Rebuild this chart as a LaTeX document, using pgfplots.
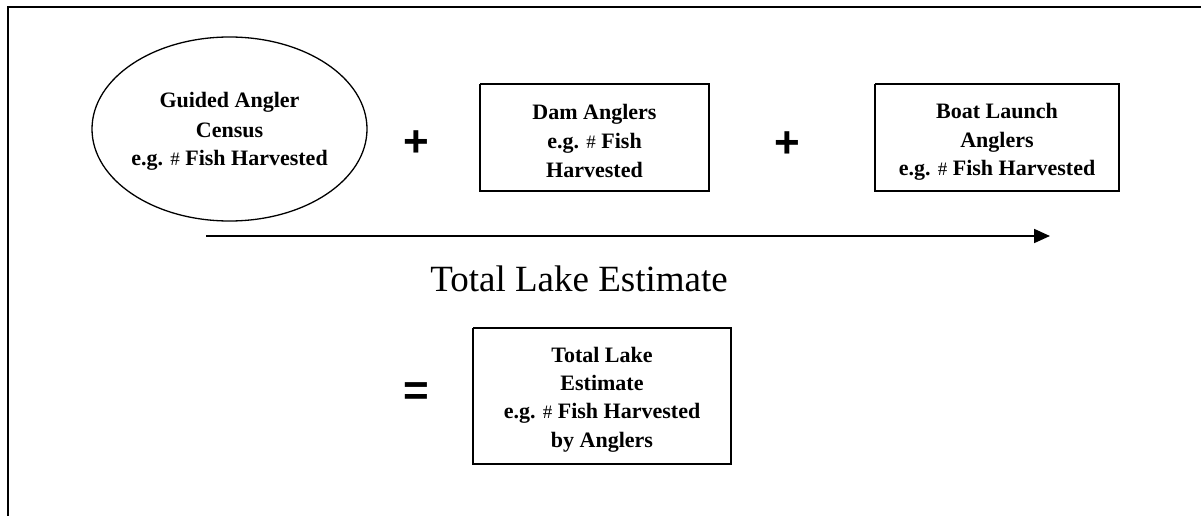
\documentclass[border=0pt]{standalone}
\usepackage{pgfplots}
\pgfplotsset{compat=1.18}
\usepackage{fontspec}
\setmainfont{Liberation Serif}
\newfontfamily\sansb{Liberation Sans}
\usetikzlibrary{arrows.meta}
\newcommand{\hs}{{\fontsize{19}{19}\selectfont\mdseries\#}}
\begin{document}
\begin{tikzpicture}
\useasboundingbox (0,0) rectangle (1201pt,516pt);
\begin{axis}[
  at={(0,0)}, anchor=south west,
  width=1201pt, height=516pt, scale only axis,
  xmin=0, xmax=1201, ymin=0, ymax=516, y dir=reverse,
  hide axis, clip=false]
% frame
\addplot[black, line width=2pt, mark=none] coordinates {(8,518) (8,7) (1203,7)};
% boxes
\addplot[black, line width=2pt, mark=none] coordinates {(480,84) (709,84) (709,191) (480,191) (480,84)};
\addplot[black, line width=2pt, mark=none] coordinates {(875,84) (1119,84) (1119,191) (875,191) (875,84)};
\addplot[black, line width=2pt, mark=none] coordinates {(473,328) (731,328) (731,464) (473,464) (473,328)};
% arrow
\addplot[black, line width=1.8pt, mark=none, -{Triangle[length=16pt,width=14pt]}] coordinates {(206,236) (1050,236)};
% ellipse
\draw[black, line width=1.3pt] (axis cs:229.5,129) ellipse [x radius=137.5pt, y radius=92pt];
% texts
\begin{scope}[every node/.style={anchor=base, inner sep=0pt, font=\fontsize{22}{28}\selectfont\bfseries}]
\node at (axis cs:229.5,108) {Guided Angler};
\node at (axis cs:229.5,137) {Census};
\node at (axis cs:229.5,165) {e.g. \hs\ Fish Harvested};
\node at (axis cs:594.5,120) {Dam Anglers};
\node at (axis cs:594.5,148) {e.g. \hs\ Fish};
\node at (axis cs:594.5,177) {Harvested};
\node at (axis cs:997,119) {Boat Launch};
\node at (axis cs:997,147) {Anglers};
\node at (axis cs:997,175) {e.g. \hs\ Fish Harvested};
\node at (axis cs:602,362) {Total Lake};
\node at (axis cs:602,390) {Estimate};
\node at (axis cs:602,418) {e.g. \hs\ Fish Harvested};
\node at (axis cs:602,447) {by Anglers};
\end{scope}
\node[anchor=base, inner sep=0pt, font=\fontsize{37}{40}\selectfont] at (axis cs:579,291) {Total Lake Estimate};
\node[inner sep=0pt, font=\sansb\bfseries\fontsize{44}{44}\selectfont] at (axis cs:416.5,144) {+};
\node[inner sep=0pt, font=\sansb\bfseries\fontsize{44}{44}\selectfont] at (axis cs:787,145) {+};
\node[inner sep=0pt, font=\sansb\bfseries\fontsize{44}{44}\selectfont] at (axis cs:416,394) {=};
\end{axis}
\end{tikzpicture}
\end{document}
